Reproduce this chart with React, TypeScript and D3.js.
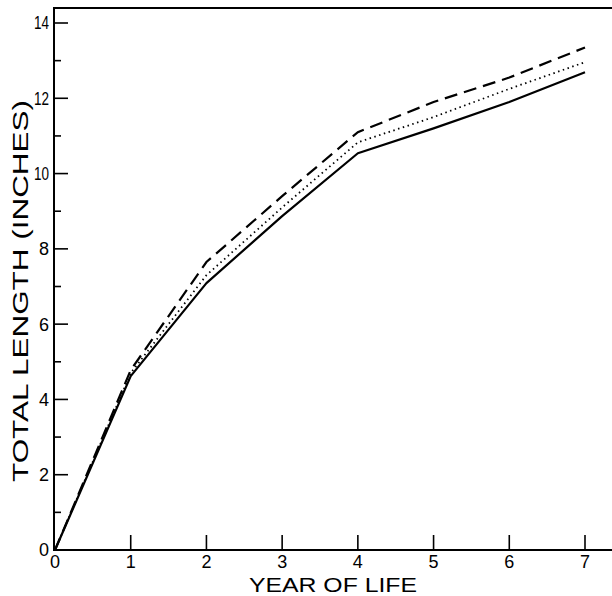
import React from "react";
import * as d3 from "d3";

const years = [0, 1, 2, 3, 4, 5, 6, 7];
const solidSeries = [0, 4.62, 7.09, 8.87, 10.54, 11.2, 11.9, 12.69];
const dottedSeries = [0, 4.7, 7.3, 9.1, 10.83, 11.5, 12.25, 12.96];
const dashedSeries = [0, 4.78, 7.65, 9.4, 11.1, 11.9, 12.55, 13.35];
const yMajorTicks = [0, 2, 4, 6, 8, 10, 12, 14];
const yMinorTicks = [1, 3, 5, 7, 9, 11, 13];
const xTicks = [0, 1, 2, 3, 4, 5, 6, 7];
const xLabel = "YEAR OF LIFE";
const yLabel = "TOTAL LENGTH (INCHES)";

export default function App() {
  const W = 612, H = 596;
  const x = d3.scaleLinear().domain([0, 7]).range([55, 585]);
  const y = d3.scaleLinear().domain([0, 14]).range([550, 23]);
  const axisLeft = 54, axisBottom = 550, top = 8, right = 612;
  const line = d3.line<number>().x((_, i) => x(years[i])).y((d) => y(d));
  const font = "'Liberation Sans', Arial, sans-serif";
  return (
    <svg width={W} height={H} style={{ position: "absolute", left: 0, top: 0 }}>
      <rect width={W} height={H} fill="#fff" />
      {/* frame */}
      <line x1={axisLeft} x2={axisLeft} y1={top} y2={axisBottom + 1} stroke="#000" strokeWidth={2} />
      <line x1={axisLeft - 1} x2={right} y1={top} y2={top} stroke="#000" strokeWidth={2} />
      <line x1={axisLeft - 1} x2={right} y1={axisBottom} y2={axisBottom} stroke="#000" strokeWidth={2} />
      {/* y ticks */}
      {yMajorTicks.map((t) => (
        <g key={"ym" + t}>
          {t !== 0 && <line x1={axisLeft} x2={axisLeft + 14} y1={y(t)} y2={y(t)} stroke="#000" strokeWidth={1.6} />}
          <text
            x={49}
            y={y(t)}
            dy="0.36em"
            textAnchor="end"
            fontFamily={font}
            fontSize={18}
            fill="#000"
            {...(t >= 10 ? { textLength: 15, lengthAdjust: "spacingAndGlyphs" } : {})}
          >
            {t}
          </text>
        </g>
      ))}
      {yMinorTicks.map((t) => (
        <line key={"yn" + t} x1={axisLeft} x2={axisLeft + 7} y1={y(t)} y2={y(t)} stroke="#000" strokeWidth={1.6} />
      ))}
      {/* x ticks */}
      {xTicks.map((t) => (
        <g key={"x" + t}>
          {t !== 0 && <line x1={x(t)} x2={x(t)} y1={axisBottom} y2={axisBottom - 15} stroke="#000" strokeWidth={1.6} />}
          <text x={x(t)} y={568} textAnchor="middle" fontFamily={font} fontSize={18} fill="#000">{t}</text>
        </g>
      ))}
      {/* axis labels */}
      <text x={333} y={592} textAnchor="middle" fontFamily={font} fontSize={21} fill="#000" textLength={168} lengthAdjust="spacingAndGlyphs">{xLabel}</text>
      <text transform={`translate(28,291) rotate(-90)`} textAnchor="middle" fontFamily={font} fontSize={22} fill="#000" textLength={382} lengthAdjust="spacingAndGlyphs">{yLabel}</text>
      {/* series */}
      <path d={line(solidSeries) || ""} fill="none" stroke="#000" strokeWidth={2.2} strokeLinejoin="round" />
      <path d={line(dottedSeries) || ""} fill="none" stroke="#000" strokeWidth={1.8} strokeDasharray="1.5 3.5" />
      <path d={line(dashedSeries) || ""} fill="none" stroke="#000" strokeWidth={2.2} strokeDasharray="13 7" />
    </svg>
  );
}
